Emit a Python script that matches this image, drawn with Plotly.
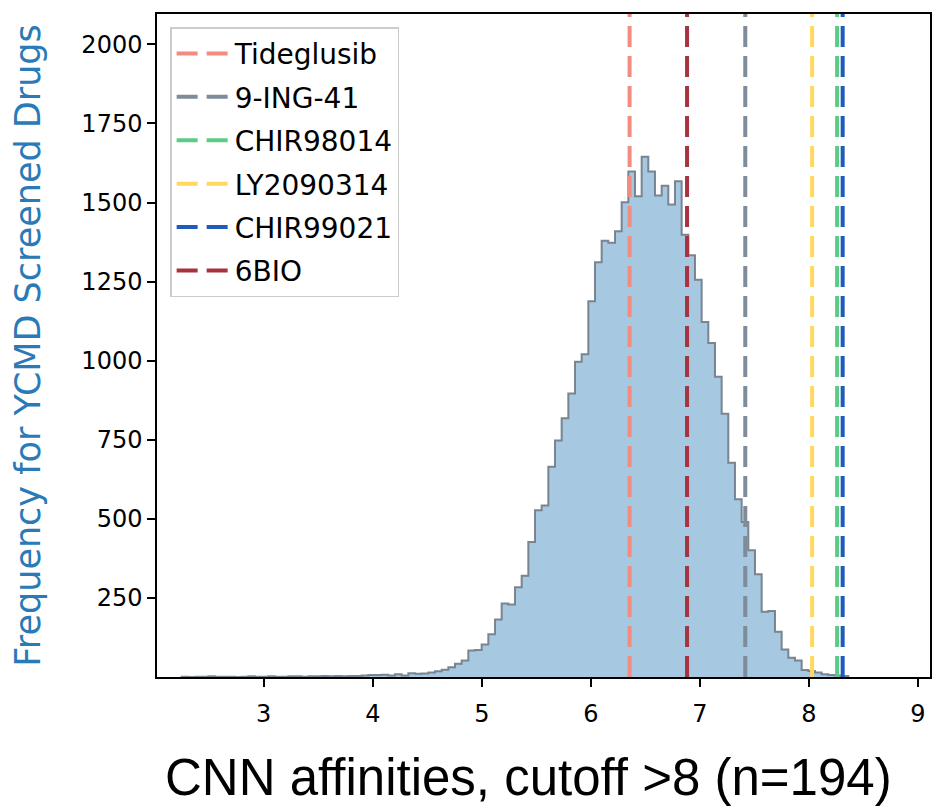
import numpy as np
import plotly.graph_objects as go

# ---- data ----
aff_min = 2.247
aff_max = 8.361
counts = [1, 0, 1, 1, 2, 1, 1, 1, 0, 1, 2, 1, 1, 2, 1, 1, 2, 2, 1, 2, 2, 3,
          2, 3, 2, 3, 3,
          5, 6, 6, 7,
          5, 9, 5, 12, 10, 11, 14, 18, 23, 31, 42, 52, 84, 85, 103, 135, 182,
          232, 229, 284, 320, 427, 527, 542, 665, 748, 818, 896, 997, 1020,
          1188, 1311, 1379, 1373, 1409, 1501, 1598, 1520, 1645, 1598, 1522,
          1553, 1494, 1567, 1398, 1333, 1256, 1122, 1056, 949, 832, 677, 562,
          490, 401, 325, 206, 209, 143, 87, 61, 52, 22, 19, 14, 9, 6, 5, 3]
drug_names = ["Tideglusib", "9-ING-41", "CHIR98014", "LY2090314", "CHIR99021", "6BIO"]
drug_affinities = [6.355, 7.416, 8.258, 8.029, 8.309, 6.882]
drug_colors = ["#f28b80", "#7d8b9a", "#5ccb85", "#ffd95e", "#1f5bbd", "#a83340"]
x_ticks = [3, 4, 5, 6, 7, 8, 9]
y_ticks = [250, 500, 750, 1000, 1250, 1500, 1750, 2000]
x_title = "CNN affinities, cutoff >8 (n=194)"
y_title = "Frequency for YCMD Screened Drugs"

edges = np.linspace(aff_min, aff_max, len(counts) + 1)
Y_TOP = 2096

xs = [edges[0]] + list(edges[:-1]) + [edges[-1]]
ys = [0] + list(counts) + [0]

fig = go.Figure()
fig.add_trace(go.Scatter(
    x=xs, y=ys, mode="lines", line_shape="hv",
    line=dict(color="rgba(112,122,134,0.9)", width=2),
    fill="tozeroy", fillcolor="#a6c8e0", showlegend=False, hoverinfo="skip"))

for i, (name, val, col) in enumerate(zip(drug_names, drug_affinities, drug_colors)):
    fig.add_trace(go.Scatter(
        x=[val, val], y=[0, Y_TOP], mode="lines", name=name,
        legendgroup=f"g{i}",
        line=dict(color=col, width=4, dash="21px,9px")))

fig.update_layout(
    width=935, height=806,
    margin=dict(l=157, r=3, t=14, b=129),
    paper_bgcolor="white", plot_bgcolor="white",
    font=dict(family="DejaVu Sans", color="black", size=24),
    legend=dict(x=0.017, y=0.98, xanchor="left", yanchor="top",
                bordercolor="#cccccc", borderwidth=1.5,
                bgcolor="rgba(255,255,255,0.85)",
                font=dict(family="DejaVu Sans", size=28),
                tracegroupgap=4, itemwidth=53),
    xaxis=dict(range=[2.021, 9.11], tickvals=x_ticks, ticks="outside",
               ticklen=8, tickwidth=1.5, tickcolor="black",
               showline=True, linecolor="black", linewidth=1.5, mirror=True,
               showgrid=False, zeroline=False, ticklabelstandoff=6,
               tickfont=dict(family="DejaVu Sans", size=24)),
    yaxis=dict(range=[0, Y_TOP], tickvals=y_ticks, ticks="outside",
               ticklen=8, tickwidth=1.5, tickcolor="black",
               showline=True, linecolor="black", linewidth=1.5, mirror=True,
               showgrid=False, zeroline=False,
               tickfont=dict(family="DejaVu Sans", size=24),
               title=dict(text=y_title,
                          font=dict(family="DejaVu Sans", size=35, color="#2a7ab8"),
                          standoff=30)),
    annotations=[dict(text=x_title, xref="paper", yref="paper",
                      x=0.481, y=-0.151, xanchor="center", yanchor="middle",
                      showarrow=False,
                      font=dict(family="Liberation Sans", size=51, color="black"))],
)

fig.write_html("out.html")
